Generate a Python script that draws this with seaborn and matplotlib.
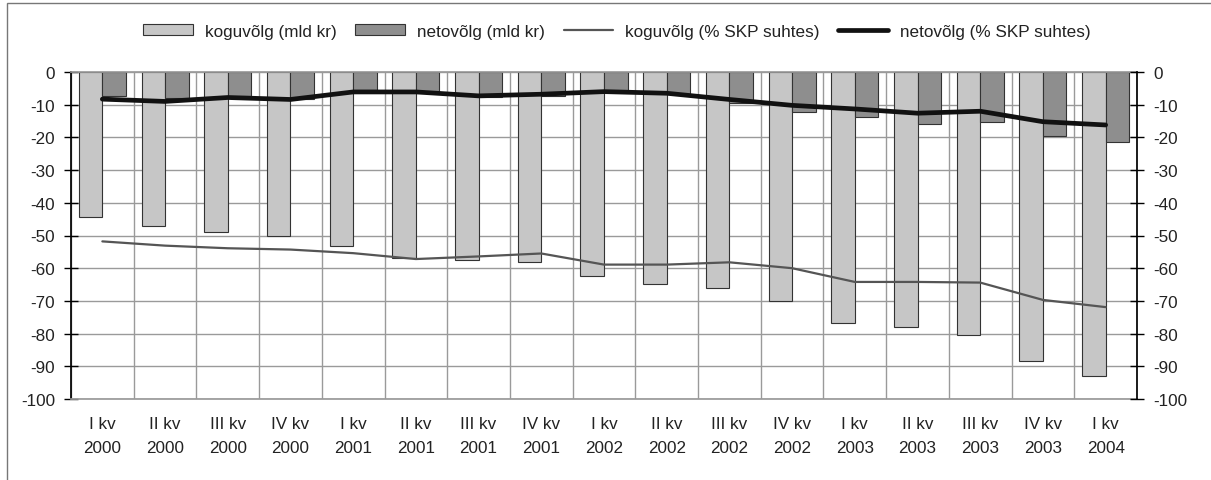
import numpy as np
import pandas as pd
import matplotlib.pyplot as plt
import seaborn as sns
from matplotlib.patches import Patch, Rectangle
from matplotlib.lines import Line2D

# Andmed (loetud jooniselt)
kvartalid = ["I kv\n2000", "II kv\n2000", "III kv\n2000", "IV kv\n2000",
             "I kv\n2001", "II kv\n2001", "III kv\n2001", "IV kv\n2001",
             "I kv\n2002", "II kv\n2002", "III kv\n2002", "IV kv\n2002",
             "I kv\n2003", "II kv\n2003", "III kv\n2003", "IV kv\n2003",
             "I kv\n2004"]
koguvolg_mld = [-44.2, -47.2, -49.0, -50.2, -53.2, -56.8, -57.5, -58.0, -62.3,
                -64.8, -66.0, -70.1, -76.8, -78.0, -80.5, -88.3, -93.1]
netovolg_mld = [-7.3, -7.9, -7.3, -8.2, -5.5, -6.1, -7.5, -7.3, -6.0,
                -6.6, -9.5, -12.1, -13.9, -15.8, -15.2, -19.5, -21.3]
koguvolg_pct = [-51.8, -53.1, -53.9, -54.3, -55.4, -57.2, -56.4, -55.5, -58.9,
                -58.9, -58.2, -60.0, -64.2, -64.2, -64.4, -69.7, -71.9]
netovolg_pct = [-8.3, -9.0, -7.8, -8.4, -6.1, -6.1, -7.3, -6.8, -6.0,
                -6.5, -8.4, -10.2, -11.3, -12.6, -12.0, -15.2, -16.2]

nimed = ["koguvõlg (mld kr)", "netovõlg (mld kr)",
         "koguvõlg (% SKP suhtes)", "netovõlg (% SKP suhtes)"]
hele, tume = "#c6c6c6", "#8e8e8e"
tekst = "#222222"
fs = 12.3

sns.set_theme(style="white")
plt.rcParams['font.family'] = ['Liberation Sans', 'DejaVu Sans']
plt.rcParams['text.color'] = tekst
plt.rcParams['axes.unicode_minus'] = False

df = pd.DataFrame({
    "kvartal": kvartalid * 2,
    "väärtus": koguvolg_mld + netovolg_mld,
    "näitaja": [nimed[0]] * len(kvartalid) + [nimed[1]] * len(kvartalid),
})

fig = plt.figure(figsize=(12.11, 4.81), dpi=100)
ax = fig.add_axes([71 / 1211, 81 / 481, (1137 - 71) / 1211, (400 - 73) / 481])

sns.barplot(data=df, x="kvartal", y="väärtus", hue="näitaja",
            palette=[hele, tume], width=0.75, saturation=1,
            edgecolor="#333333", linewidth=0.8, legend=False, ax=ax)

ax2 = ax.twinx()
x = np.arange(len(kvartalid))
sns.lineplot(x=x, y=koguvolg_pct, color="#555555", linewidth=1.6, ax=ax2)
sns.lineplot(x=x, y=netovolg_pct, color="#111111", linewidth=3.4, ax=ax2)

for a in (ax, ax2):
    a.set_ylim(-100, 0)
    a.set_yticks(range(-100, 1, 10))
    a.set_ylabel("")
    a.set_xlabel("")
    a.tick_params(axis="y", direction="inout", length=10, width=1,
                  color="black", labelsize=fs, labelcolor=tekst, pad=6.5)
ax.set_xlim(-0.5, len(kvartalid) - 0.5)

# ruudustik
ax.set_xticks(np.arange(-0.5, len(kvartalid), 1), minor=True)
ax.grid(True, which="minor", axis="x", color="#9a9a9a", linewidth=1)
ax.grid(True, which="major", axis="y", color="#9a9a9a", linewidth=1)
ax.grid(False, which="major", axis="x")
ax.set_axisbelow(True)
ax.tick_params(axis="x", which="both", length=0, labelsize=fs,
               labelcolor=tekst, pad=12)
for t in ax.get_xticklabels():
    t.set_linespacing(1.75)

for s in ("top", "bottom"):
    ax.spines[s].set_color("#9a9a9a")
    ax2.spines[s].set_visible(False)
ax.spines["left"].set_color("black")
ax.spines["right"].set_visible(False)
ax2.spines["left"].set_visible(False)
ax2.spines["right"].set_color("black")

handles = [Patch(facecolor=hele, edgecolor="#333333", linewidth=0.8),
           Patch(facecolor=tume, edgecolor="#333333", linewidth=0.8),
           Line2D([], [], color="#555555", linewidth=1.6),
           Line2D([], [], color="#111111", linewidth=3.4)]
fig.legend(handles, nimed, loc="center", bbox_to_anchor=(617 / 1211, 1 - 32 / 481),
           ncol=4, frameon=False, fontsize=fs, handlelength=2.9,
           handleheight=0.65, handletextpad=0.7, columnspacing=1.1)

# raam ümber joonise
fig.add_artist(Rectangle((7 / 1211, -0.05), 1.0, 1.05 - 3.5 / 481,
                         transform=fig.transFigure, fill=False,
                         edgecolor="#777777", linewidth=1))

fig.savefig("out.png", dpi=100)
